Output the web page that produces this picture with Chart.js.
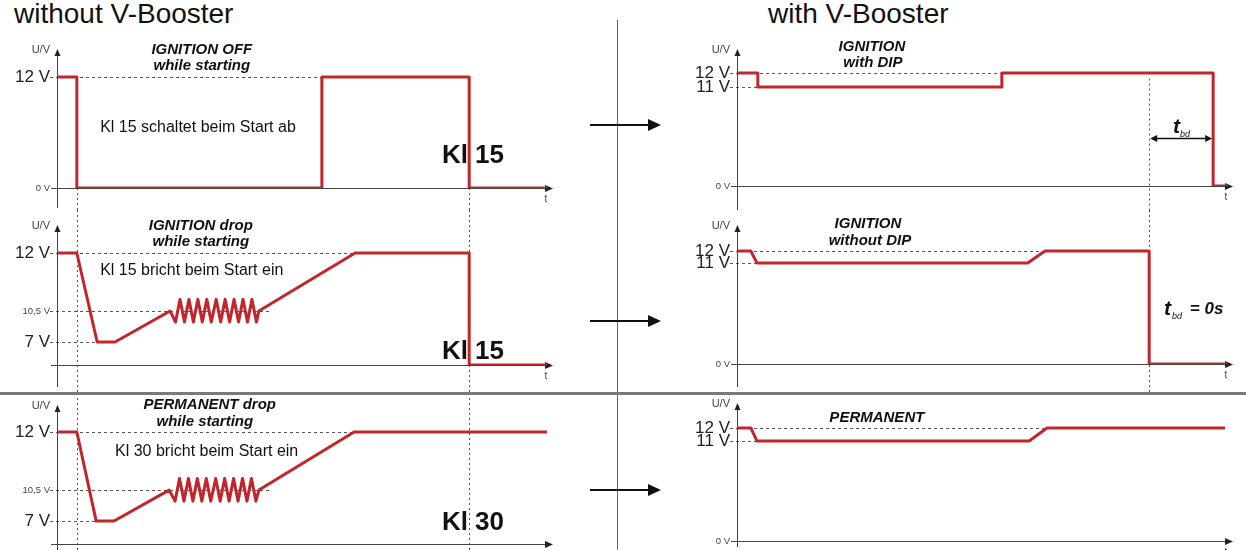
<!DOCTYPE html>
<html>
<head>
<meta charset="utf-8">
<script src="https://cdn.jsdelivr.net/npm/chart.js@4/dist/chart.umd.min.js"></script>
<style>
  html, body { margin: 0; padding: 0; background: #fff; width: 1246px; height: 550px; overflow: hidden; }
  body { position: relative; font-family: "Liberation Sans", Arial, sans-serif; }
  canvas { position: absolute; }
  .head { position: absolute; top: 0; font-size: 28px; line-height: 28px; color: #111; white-space: nowrap; }
</style>
</head>
<body>
<div class="head" style="left:14px">without V-Booster</div>
<div class="head" style="left:768px">with V-Booster</div>
<canvas id="l1" width="580" height="180" style="left:0;top:30px"></canvas>
<canvas id="l2" width="580" height="183" style="left:0;top:210px"></canvas>
<canvas id="l3" width="580" height="157" style="left:0;top:393px"></canvas>
<canvas id="r1" width="566" height="180" style="left:680px;top:30px"></canvas>
<canvas id="r2" width="566" height="183" style="left:680px;top:210px"></canvas>
<canvas id="r3" width="566" height="157" style="left:680px;top:393px"></canvas>
<canvas id="over" width="1246" height="550" style="left:0;top:0;pointer-events:none"></canvas>
<script>
// time runs 0..100 along the t axis (0 = U axis, 100 = arrow tip), voltage in V

// without V-Booster
const offT  = [0, 4.0, 4.0, 53.4, 53.4, 83.1, 83.1, 98.8];
const offU  = [12, 12, 0, 0, 12, 12, 0, 0];

const dropT = [0, 4.0, 8.1, 11.7, 22.8,
  23.9, 24.8, 25.7, 26.6, 27.5, 28.4, 29.3, 30.2, 31.1, 32.1,
  33.0, 33.9, 34.8, 35.7, 36.6, 37.5, 38.4, 39.3, 40.2, 40.7,
  60.1, 83.1, 83.1, 98.8];
const dropU = [12, 12, 7, 7, 10.5,
  9.25, 10.8, 9.25, 10.8, 9.25, 10.8, 9.25, 10.8, 9.25, 10.8,
  9.25, 10.8, 9.25, 10.8, 9.25, 10.8, 9.25, 10.8, 9.25, 10.5,
  12, 12, 0, 0];

const permT = [0, 4.0, 7.9, 11.5, 22.6,
  23.8, 24.7, 25.6, 26.5, 27.4, 28.3, 29.2, 30.1, 31.0, 32.0,
  32.9, 33.8, 34.7, 35.6, 36.5, 37.4, 38.3, 39.2, 40.1, 40.7,
  59.9, 98.8];
const permU = [12, 12, 7, 7, 10.5,
  9.25, 10.8, 9.25, 10.8, 9.25, 10.8, 9.25, 10.8, 9.25, 10.8,
  9.25, 10.8, 9.25, 10.8, 9.25, 10.8, 9.25, 10.8, 9.25, 10.5,
  12, 12];

// with V-Booster
const dipT   = [0, 4.2, 4.2, 53.4, 53.4, 96.0, 96.0, 99.0];
const dipU   = [12, 12, 11, 11, 12, 12, 0, 0];
const noDipT = [0, 2.8, 4.0, 58.6, 62.1, 83.1, 83.1, 98.8];
const noDipU = [12, 12, 11, 11, 12, 12, 0, 0];
const permBT = [0, 2.8, 4.0, 58.9, 62.5, 98.4];
const permBU = [12, 12, 11, 11, 12, 12];

// tick labels on the U axes
const ticksOff  = [0, 12];
const ticksDrop = [7, 10.5, 12];
const ticksDip  = [0, 11, 12];

const RED = '#c1262c';
const FAM = '"Liberation Sans", Arial, sans-serif';
const TITLE = 'italic bold 15px ' + FAM;
const NOTE = '16px ' + FAM;
const KL = 'bold 26px ' + FAM;

// panel layout: padding, piecewise axis knots [value, fraction], annotations
const PANELS = {
  l1: { t: offT, u: offU, ticks: ticksOff, pad: [19, 22, 27], below: 20,
        knots: [[0, 0], [12, 0.799], [15, 1]],
        refs: [[12, 53.4]], marks: [[4.0, 0], [83.1, 0]],
        texts: [['IGNITION OFF', 29.2, 20, TITLE, 'center'], ['while starting', 29.2, 36, TITLE, 'center'],
                ['Kl 15 schaltet beim Start ab', 8.7, 98, NOTE, 'left'], ['Kl 15', 77.6, 126, KL, 'left']] },
  l2: { t: dropT, u: dropU, ticks: ticksDrop, pad: [15, 28, 27], below: 22,
        knots: [[0, 0], [7, 0.164], [10.5, 0.386], [12, 0.8], [15, 1]],
        refs: [[12, 60.1], [10.5, 43.0], [7, 8.1]], marks: [[4.0, null], [83.1, null]],
        texts: [['IGNITION drop', 29.0, 16, TITLE, 'center'], ['while starting', 29.0, 32, TITLE, 'center'],
                ['Kl 15 bricht beim Start ein', 8.7, 61, NOTE, 'left'], ['Kl 15', 77.6, 142, KL, 'left']] },
  l3: { t: permT, u: permU, ticks: ticksDrop, pad: [12, 6, 27], below: 10,
        knots: [[0, 0], [7, 0.165], [10.5, 0.388], [12, 0.806], [15, 1]],
        refs: [[12, 59.9], [10.5, 43.0], [7, 7.9]], marks: [[4.0, null], [83.1, null]],
        texts: [['PERMANENT drop', 30.8, 12, TITLE, 'center'], ['while starting', 29.8, 29, TITLE, 'center'],
                ['Kl 30 bricht beim Start ein', 11.7, 59, NOTE, 'left'], ['Kl 30', 77.6, 130, KL, 'left']] },
  r1: { t: dipT, u: dipU, ticks: ticksDip, pad: [19, 24, 13], below: 24,
        knots: [[0, 0], [11, 0.723], [12, 0.825], [15, 1]],
        refs: [[12, 53.4], [11, 4.2]], marks: [[83.1, 11.6]], span: [83.1, 96.0, 5.3],
        texts: [['IGNITION', 27.2, 17, TITLE, 'center'], ['with DIP', 27.4, 33, TITLE, 'center'],
                ['t', 87.9, 97, 'italic bold 21px ' + FAM, 'left'], ['bd', 89.3, 104, 'italic 9px ' + FAM, 'left']] },
  r2: { t: noDipT, u: noDipU, ticks: ticksDip, pad: [15, 29, 13], below: 23,
        knots: [[0, 0], [11, 0.727], [12, 0.813], [15, 1]],
        refs: [[12, 62.1], [11, 4.0]], marks: [[83.1, null]],
        texts: [['IGNITION', 26.4, 14, TITLE, 'center'], ['without DIP', 26.8, 31, TITLE, 'center'],
                ['t', 86.1, 99, 'italic bold 21px ' + FAM, 'left'], ['bd', 87.7, 106, 'italic 9px ' + FAM, 'left'],
                ['= 0s', 91.3, 99, 'italic bold 17px ' + FAM, 'left']] },
  r3: { t: permBT, u: permBU, ticks: ticksDip, pad: [10, 9, 13], below: 6,
        knots: [[0, 0], [11, 0.725], [12, 0.819], [15, 1]],
        refs: [[12, 62.5], [11, 4.0]], marks: [],
        texts: [['PERMANENT', 28.2, 25, TITLE, 'center']] }
};

function kneeFrac(knots, v) {
  for (let i = 1; i < knots.length; i++) {
    if (v <= knots[i][0] || i === knots.length - 1) {
      const a = knots[i - 1], b = knots[i];
      return a[1] + (v - a[0]) / (b[0] - a[0]) * (b[1] - a[1]);
    }
  }
  return 0;
}
function kneeValue(knots, f) {
  for (let i = 1; i < knots.length; i++) {
    if (f <= knots[i][1] || i === knots.length - 1) {
      const a = knots[i - 1], b = knots[i];
      return a[0] + (f - a[1]) / (b[1] - a[1]) * (b[0] - a[0]);
    }
  }
  return 0;
}

// schematic voltage axis, not to scale
class KneeScale extends Chart.LinearScale {
  getPixelForValue(value) {
    if (value === null || isNaN(value)) return NaN;
    return this.getPixelForDecimal(kneeFrac(PANELS[this.chart.canvas.id].knots, value));
  }
  getValueForPixel(pixel) {
    return kneeValue(PANELS[this.chart.canvas.id].knots, this.getDecimalForPixel(pixel));
  }
}
KneeScale.id = 'knee';
KneeScale.defaults = Chart.LinearScale.defaults;
Chart.register(KneeScale);

function isSmall(c) {
  const v = c && c.tick ? c.tick.value : 12;
  return v === 0 || v === 10.5;
}

function arrowHead(ctx, x, y, dir, len, half) {
  ctx.beginPath();
  if (dir === 'up') { ctx.moveTo(x, y); ctx.lineTo(x - half, y + len); ctx.lineTo(x + half, y + len); }
  else if (dir === 'right') { ctx.moveTo(x, y); ctx.lineTo(x - len, y - half); ctx.lineTo(x - len, y + half); }
  else { ctx.moveTo(x, y); ctx.lineTo(x + len, y - half); ctx.lineTo(x + len, y + half); }
  ctx.closePath();
  ctx.fill();
}

const schematic = {
  id: 'schematic',
  beforeDatasetsDraw(chart) {
    const p = PANELS[chart.canvas.id];
    const ctx = chart.ctx, ca = chart.chartArea;
    const xs = chart.scales.x, ys = chart.scales.y;
    ctx.save();
    // dashed reference levels
    ctx.strokeStyle = '#555';
    ctx.lineWidth = 1;
    ctx.setLineDash([3, 3]);
    p.refs.forEach(r => {
      const y = Math.round(ys.getPixelForValue(r[0])) + 0.5;
      ctx.beginPath();
      ctx.moveTo(ca.left - 7, y);
      ctx.lineTo(xs.getPixelForValue(r[1]), y);
      ctx.stroke();
    });
    // dashed time markers
    ctx.setLineDash([2, 3]);
    p.marks.forEach(m => {
      const x = Math.round(xs.getPixelForValue(m[0])) + 0.5;
      ctx.beginPath();
      ctx.moveTo(x, m[1] === null ? 0 : ys.getPixelForValue(m[1]));
      ctx.lineTo(x, chart.height);
      ctx.stroke();
    });
    ctx.setLineDash([]);
    // axes with arrows
    ctx.strokeStyle = '#444';
    ctx.fillStyle = '#222';
    const ax = Math.round(ca.left) + 0.5, ay = Math.round(ca.bottom) + 0.5;
    ctx.beginPath();
    ctx.moveTo(ax, ca.bottom + p.below);
    ctx.lineTo(ax, ca.top + 4);
    ctx.moveTo(ca.left - 6, ay);
    ctx.lineTo(ca.right - 4, ay);
    ctx.stroke();
    arrowHead(ctx, ax, ca.top, 'up', 7, 3);
    arrowHead(ctx, ca.right, ay, 'right', 8, 3.5);
    ctx.font = '11px ' + FAM;
    ctx.fillStyle = '#444';
    ctx.textBaseline = 'middle';
    ctx.textAlign = 'right';
    ctx.fillText('U/V', ca.left - 7, ca.top + 1);
    ctx.font = '10px ' + FAM;
    ctx.textAlign = 'center';
    ctx.fillText('t', ca.right - 7, ca.bottom + 11);
    // t_bd span
    if (p.span) {
      const x0 = xs.getPixelForValue(p.span[0]), x1 = xs.getPixelForValue(p.span[1]);
      const y = Math.round(ys.getPixelForValue(p.span[2])) + 0.5;
      ctx.strokeStyle = '#111';
      ctx.fillStyle = '#111';
      ctx.lineWidth = 1.5;
      ctx.beginPath();
      ctx.moveTo(x0 + 5, y);
      ctx.lineTo(x1 - 5, y);
      ctx.stroke();
      arrowHead(ctx, x0 + 1, y, 'left', 7, 3.5);
      arrowHead(ctx, x1 - 1, y, 'right', 7, 3.5);
    }
    ctx.restore();
  },
  afterDatasetsDraw(chart) {
    const p = PANELS[chart.canvas.id];
    const ctx = chart.ctx, xs = chart.scales.x;
    ctx.save();
    ctx.fillStyle = '#111';
    ctx.textBaseline = 'middle';
    p.texts.forEach(tx => {
      ctx.font = tx[3];
      ctx.textAlign = tx[4];
      ctx.fillText(tx[0], xs.getPixelForValue(tx[1]), tx[2]);
    });
    ctx.restore();
  }
};

Object.keys(PANELS).forEach(id => {
  const p = PANELS[id];
  new Chart(document.getElementById(id), {
    type: 'line',
    data: {
      datasets: [{
        data: p.t.map((t, i) => ({ x: t, y: p.u[i] })),
        borderColor: RED,
        borderWidth: 3,
        borderJoinStyle: 'round',
        pointRadius: 0,
        tension: 0,
        fill: false
      }]
    },
    options: {
      responsive: false,
      animation: false,
      events: [],
      layout: { padding: { left: 0, top: p.pad[0], bottom: p.pad[1], right: p.pad[2] } },
      plugins: { legend: { display: false }, tooltip: { enabled: false } },
      scales: {
        x: { type: 'linear', min: 0, max: 100, display: false },
        y: {
          type: 'knee', min: 0, max: 15,
          grid: { display: false, drawTicks: false },
          border: { display: false },
          afterBuildTicks: s => { s.ticks = PANELS[s.chart.canvas.id].ticks.map(v => ({ value: v })); },
          afterFit: s => { s.width = 57; s.paddingTop = 0; s.paddingBottom = 0; },
          ticks: {
            autoSkip: false,
            padding: 7,
            callback: v => String(v).replace('.', ',') + ' V',
            color: c => isSmall(c) ? '#444' : '#222',
            font: c => ({ family: FAM, size: isSmall(c) ? 9.5 : 17 })
          }
        }
      }
    },
    plugins: [schematic]
  });
});

// dividers and the arrows between the two columns
const o = document.getElementById('over').getContext('2d');
o.strokeStyle = '#666';
o.lineWidth = 1;
o.beginPath();
o.moveTo(617.5, 20);
o.lineTo(617.5, 550);
o.stroke();
o.strokeStyle = '#7a7a7a';
o.lineWidth = 3;
o.beginPath();
o.moveTo(0, 393.5);
o.lineTo(1246, 393.5);
o.stroke();
o.strokeStyle = '#111';
o.fillStyle = '#111';
o.lineWidth = 2;
[125, 321, 490].forEach(y => {
  o.beginPath();
  o.moveTo(590, y);
  o.lineTo(650, y);
  o.stroke();
  arrowHead(o, 661, y, 'right', 13, 6);
});
</script>
</body>
</html>
